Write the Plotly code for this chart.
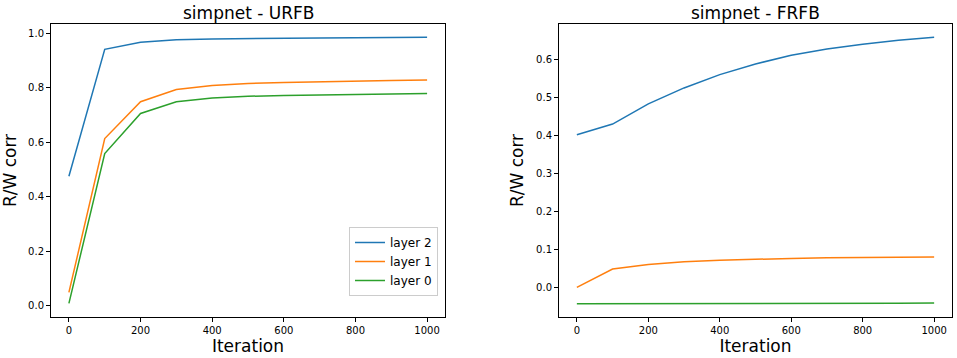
import plotly.graph_objects as go

iterations = [0, 100, 200, 300, 400, 500, 600, 700, 800, 900, 1000]

urfb_layer2 = [0.475, 0.940, 0.966, 0.975, 0.978, 0.980, 0.981, 0.982, 0.983, 0.983, 0.984]
urfb_layer1 = [0.049, 0.613, 0.748, 0.793, 0.808, 0.815, 0.819, 0.822, 0.824, 0.826, 0.828]
urfb_layer0 = [0.009, 0.558, 0.705, 0.748, 0.762, 0.768, 0.771, 0.773, 0.775, 0.777, 0.778]

frfb_layer2 = [0.402, 0.430, 0.483, 0.525, 0.560, 0.588, 0.611, 0.627, 0.640, 0.650, 0.658]
frfb_layer1 = [0.001, 0.049, 0.061, 0.068, 0.072, 0.075, 0.077, 0.079, 0.080, 0.081, 0.081]
frfb_layer0 = [-0.042, -0.042, -0.042, -0.041, -0.041, -0.041, -0.041, -0.041, -0.041, -0.041, -0.040]

titles = ["simpnet - URFB", "simpnet - FRFB"]
series_names = ["layer 2", "layer 1", "layer 0"]
colors = ["#1f77b4", "#ff7f0e", "#2ca02c"]
x_ticks = [0, 200, 400, 600, 800, 1000]
left_y_ticks = [0.0, 0.2, 0.4, 0.6, 0.8, 1.0]
right_y_ticks = [0.0, 0.1, 0.2, 0.3, 0.4, 0.5, 0.6]

W, H = 957, 358
font = "DejaVu Sans"

fig = go.Figure()

left = [urfb_layer2, urfb_layer1, urfb_layer0]
right = [frfb_layer2, frfb_layer1, frfb_layer0]
for i, (ys, name) in enumerate(zip(left, series_names)):
    fig.add_trace(go.Scatter(x=iterations, y=ys, mode="lines", name=name,
                             line=dict(color=colors[i], width=1.5),
                             xaxis="x", yaxis="y", showlegend=True))
for i, ys in enumerate(right):
    fig.add_trace(go.Scatter(x=iterations, y=ys, mode="lines", name=series_names[i],
                             line=dict(color=colors[i], width=1.5),
                             xaxis="x2", yaxis="y2", showlegend=False))

def px_x(p):
    return p / W

def px_y(p):
    return 1 - p / H

ydom = [px_y(317), px_y(24)]
axis_common = dict(showline=True, linecolor="black", linewidth=1, mirror=True,
                   ticks="outside", ticklen=4, tickcolor="black", showgrid=False,
                   zeroline=False, automargin=False,
                   tickfont=dict(family=font, size=10, color="black"))

fig.update_layout(
    width=W, height=H,
    margin=dict(l=0, r=0, t=0, b=0),
    paper_bgcolor="white", plot_bgcolor="white",
    font=dict(family=font, color="black"),
    xaxis=dict(domain=[px_x(51), px_x(445)], range=[-50, 1050], anchor="y",
               tickvals=x_ticks, title=dict(text="Iteration", font=dict(size=17), standoff=2),
               **axis_common),
    yaxis=dict(domain=ydom, range=[-0.041, 1.033], anchor="x",
               tickvals=left_y_ticks, tickformat=".1f",
               title=dict(text="R/W corr", font=dict(size=17), standoff=8),
               **axis_common),
    xaxis2=dict(domain=[px_x(559), px_x(952)], range=[-50, 1050], anchor="y2",
                tickvals=x_ticks, title=dict(text="Iteration", font=dict(size=17), standoff=2),
                **axis_common),
    yaxis2=dict(domain=ydom, range=[-0.077, 0.693], anchor="x2",
                tickvals=right_y_ticks, tickformat=".1f",
                title=dict(text="R/W corr", font=dict(size=17), standoff=8),
                **axis_common),
    legend=dict(x=px_x(438), y=px_y(296), xanchor="right", yanchor="bottom",
                bordercolor="#cccccc", borderwidth=1, bgcolor="rgba(255,255,255,0.8)",
                font=dict(family=font, size=12), itemwidth=30,
                tracegroupgap=0),
    annotations=[
        dict(text=titles[0], x=(px_x(51) + px_x(445)) / 2, y=px_y(13), xref="paper", yref="paper",
             showarrow=False, font=dict(family=font, size=17), xanchor="center", yanchor="middle"),
        dict(text=titles[1], x=(px_x(559) + px_x(952)) / 2, y=px_y(13), xref="paper", yref="paper",
             showarrow=False, font=dict(family=font, size=17), xanchor="center", yanchor="middle"),
    ],
)

fig.write_html("out.html",
               config={"displayModeBar": False},
               post_script="document.body.style.margin='0';document.body.style.overflow='hidden';")
